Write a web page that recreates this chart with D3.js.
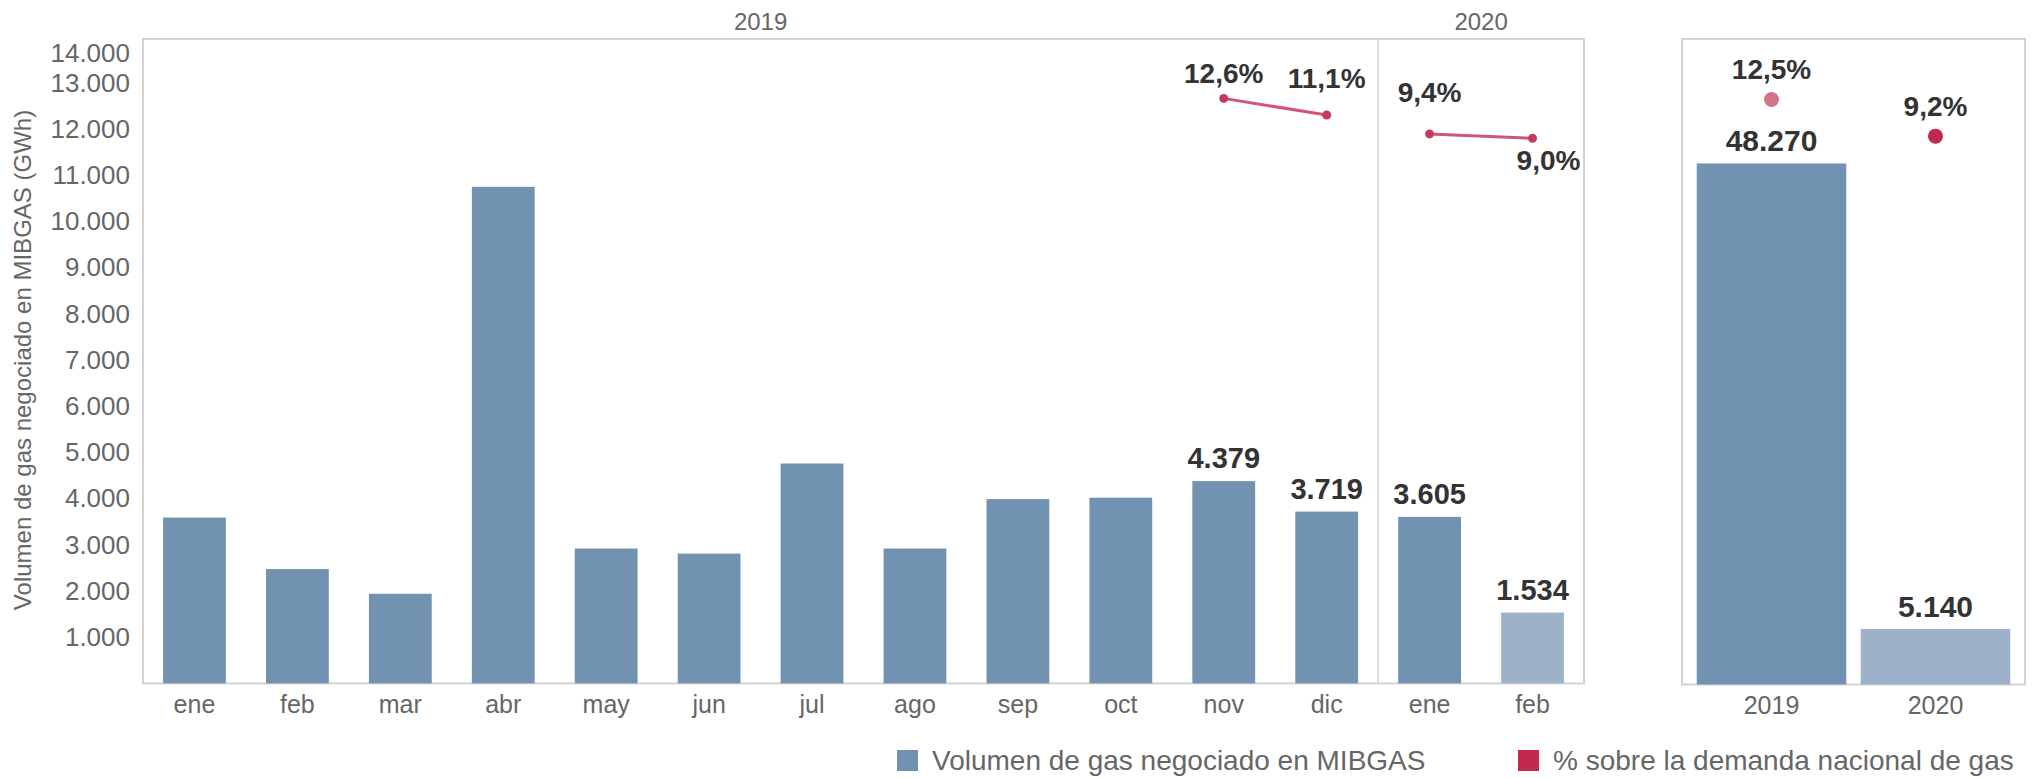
<!DOCTYPE html>
<html>
<head>
<meta charset="utf-8">
<script src="https://cdn.jsdelivr.net/npm/d3@7"></script>
<style>
  body { margin: 0; background: #fff; }
  text { font-family: "Liberation Sans", Arial, sans-serif; }
</style>
</head>
<body>
<svg id="main"></svg>
<script>
// monthly traded volume (GWh), 2019 jan-dec + 2020 jan-feb
var months = ["ene", "feb", "mar", "abr", "may", "jun", "jul", "ago", "sep", "oct", "nov", "dic", "ene", "feb"];
var monthYear = [2019, 2019, 2019, 2019, 2019, 2019, 2019, 2019, 2019, 2019, 2019, 2019, 2020, 2020];
var volume = [3590, 2475, 1940, 10750, 2920, 2810, 4760, 2920, 3990, 4020, 4379, 3719, 3605, 1534];
// % of national gas demand (only the last months fall inside the chart)
var pctMonth = [null, null, null, null, null, null, null, null, null, null, 12.6, 11.1, 9.4, 9.0];
// which bars get a value label, which month is incomplete
var labelled = [10, 11, 12, 13];
var incomplete = [13];

// yearly totals
var years = ["2019", "2020"];
var yearVolume = [48270, 5140];
var yearPct = [12.5, 9.2];

var yTicks = [1000, 2000, 3000, 4000, 5000, 6000, 7000, 8000, 9000, 10000, 11000, 12000, 13000, 14000];
var legendItems = ["Volumen de gas negociado en MIBGAS", "% sobre la demanda nacional de gas"];

var W = 2038, H = 778;
var dark = "#7192b1", light = "#9db2c8", red = "#c1294d", frame = "#d3d3d3";

var es = d3.formatLocale({decimal: ",", thousands: ".", grouping: [3], currency: ["", "€"]});
var fmtNum = es.format(",.0f");
var fmtPct = function (v) { return es.format(".1f")(v) + "%"; };

var svg = d3.select("#main").attr("width", W).attr("height", H);

// ---------- left panel (monthly) ----------
var pL = 143, pR = 1584, pT = 39, pB = 683.4;

var x = d3.scaleBand()
    .domain(d3.range(months.length))
    .range([pL, pR])
    .paddingInner(0.39)
    .paddingOuter(0.195);

var y = d3.scaleLinear()
    .domain([0, 13950])
    .range([pB, pT]);

// hidden dual axis for the percentages
var yPct = d3.scaleLinear()
    .domain([-40.1, 17.95])
    .range([pB, pT]);

// frame + year divider
svg.append("rect")
    .attr("x", pL).attr("y", pT)
    .attr("width", pR - pL).attr("height", pB - pT)
    .attr("fill", "none").attr("stroke", frame).attr("stroke-width", 2);

var divX = x(12) - x.step() * x.paddingInner() / 2;
svg.append("line")
    .attr("x1", divX).attr("x2", divX)
    .attr("y1", pT).attr("y2", pB)
    .attr("stroke", frame).attr("stroke-width", 1.5);

// y axis
var yAxis = svg.append("g")
    .attr("transform", "translate(" + pL + ",0)")
    .call(d3.axisLeft(y).tickValues(yTicks).tickFormat(fmtNum).tickSize(0).tickPadding(13));
yAxis.select(".domain").remove();
yAxis.selectAll("text")
    .style("font-size", "26px")
    .attr("fill", "#666");
// 14.000 sits just above the frame, so its label is pushed down inside
yAxis.selectAll(".tick")
    .filter(function (d) { return y(d) < pT + 15; })
    .attr("transform", "translate(0," + (pT + 15) + ")");

svg.append("text")
    .attr("transform", "rotate(-90)")
    .attr("x", -360)
    .attr("y", 23)
    .attr("dy", "0.35em")
    .style("text-anchor", "middle")
    .style("font-size", "24px")
    .attr("fill", "#666")
    .text("Volumen de gas negociado en MIBGAS (GWh)");

// x axis labels
var xAxis = svg.append("g")
    .attr("transform", "translate(0," + pB + ")")
    .call(d3.axisBottom(x).tickFormat(function (i) { return months[i]; }).tickSize(0).tickPadding(12));
xAxis.select(".domain").remove();
xAxis.selectAll("text")
    .style("font-size", "25px")
    .attr("fill", "#666");

// year headers
[2019, 2020].forEach(function (yr) {
    var idx = d3.range(months.length).filter(function (i) { return monthYear[i] === yr; });
    var x0 = x(idx[0]) - x.step() * x.paddingInner() / 2;
    var x1 = x(idx[idx.length - 1]) + x.bandwidth() + x.step() * x.paddingInner() / 2;
    svg.append("text")
        .attr("x", (x0 + x1) / 2)
        .attr("y", 30)
        .style("text-anchor", "middle")
        .style("font-size", "24px")
        .attr("fill", "#666")
        .text(yr);
});

// bars
svg.append("g")
    .selectAll("rect")
    .data(volume)
    .enter()
    .append("rect")
      .attr("x", function (d, i) { return x(i); })
      .attr("y", function (d) { return y(d); })
      .attr("width", x.bandwidth())
      .attr("height", function (d) { return pB - y(d); })
      .attr("fill", function (d, i) { return incomplete.indexOf(i) >= 0 ? light : dark; });

svg.append("g")
    .selectAll("text")
    .data(labelled)
    .enter()
    .append("text")
      .attr("x", function (i) { return x(i) + x.bandwidth() / 2; })
      .attr("y", function (i) { return y(volume[i]) - 13; })
      .style("text-anchor", "middle")
      .style("font-size", "29px")
      .style("font-weight", "bold")
      .attr("fill", "#333")
      .text(function (i) { return fmtNum(volume[i]); });

// percentage lines, one segment per year
var pctLine = d3.line()
    .defined(function (i) { return pctMonth[i] != null; })
    .x(function (i) { return x(i) + x.bandwidth() / 2; })
    .y(function (i) { return yPct(pctMonth[i]); });

[2019, 2020].forEach(function (yr) {
    var idx = d3.range(months.length).filter(function (i) { return monthYear[i] === yr; });
    svg.append("path")
        .datum(idx)
        .attr("d", pctLine)
        .attr("fill", "none")
        .attr("stroke", "#cf5676")
        .attr("stroke-width", 3);
});

var pctIdx = d3.range(months.length).filter(function (i) { return pctMonth[i] != null; });
svg.append("g")
    .selectAll("circle")
    .data(pctIdx)
    .enter()
    .append("circle")
      .attr("cx", function (i) { return x(i) + x.bandwidth() / 2; })
      .attr("cy", function (i) { return yPct(pctMonth[i]); })
      .attr("r", 4.5)
      .attr("fill", "#c53a5e");

// label placement (Tableau moves them around to avoid overlaps)
var pctDy = [-15, -27, -32, 32];
var pctDx = [0, 0, 0, 16];
svg.append("g")
    .selectAll("text")
    .data(pctIdx)
    .enter()
    .append("text")
      .attr("x", function (i, k) { return x(i) + x.bandwidth() / 2 + pctDx[k]; })
      .attr("y", function (i, k) { return yPct(pctMonth[i]) + pctDy[k]; })
      .style("text-anchor", "middle")
      .style("font-size", "28px")
      .style("font-weight", "bold")
      .attr("fill", "#333")
      .text(function (i) { return fmtPct(pctMonth[i]); });

// ---------- right panel (yearly totals) ----------
var qL = 1682, qR = 2025, qB = 684.5;

var x2 = d3.scaleBand()
    .domain(years)
    .range([qL, qR])
    .paddingInner(0.088)
    .paddingOuter(0.09);

var y2 = d3.scaleLinear()
    .domain([0, 59800])
    .range([qB, pT]);

svg.append("rect")
    .attr("x", qL).attr("y", pT)
    .attr("width", qR - qL).attr("height", qB - pT)
    .attr("fill", "none").attr("stroke", frame).attr("stroke-width", 2);

svg.append("g")
    .selectAll("rect")
    .data(yearVolume)
    .enter()
    .append("rect")
      .attr("x", function (d, i) { return x2(years[i]); })
      .attr("y", function (d) { return y2(d); })
      .attr("width", x2.bandwidth())
      .attr("height", function (d) { return qB - y2(d); })
      .attr("fill", function (d, i) { return i === 0 ? dark : light; });

svg.append("g")
    .selectAll("text")
    .data(yearVolume)
    .enter()
    .append("text")
      .attr("x", function (d, i) { return x2(years[i]) + x2.bandwidth() / 2; })
      .attr("y", function (d) { return y2(d) - 12; })
      .style("text-anchor", "middle")
      .style("font-size", "30px")
      .style("font-weight", "bold")
      .attr("fill", "#333")
      .text(function (d) { return fmtNum(d); });

svg.append("g")
    .selectAll("circle")
    .data(yearPct)
    .enter()
    .append("circle")
      .attr("cx", function (d, i) { return x2(years[i]) + x2.bandwidth() / 2; })
      .attr("cy", function (d) { return yPct(d); })
      .attr("r", 7.5)
      .attr("fill", function (d, i) { return i === 0 ? "#d5738b" : red; });

svg.append("g")
    .selectAll("text")
    .data(yearPct)
    .enter()
    .append("text")
      .attr("x", function (d, i) { return x2(years[i]) + x2.bandwidth() / 2; })
      .attr("y", function (d) { return yPct(d) - 20; })
      .style("text-anchor", "middle")
      .style("font-size", "28px")
      .style("font-weight", "bold")
      .attr("fill", "#333")
      .text(function (d) { return fmtPct(d); });

var xAxis2 = svg.append("g")
    .attr("transform", "translate(0," + qB + ")")
    .call(d3.axisBottom(x2).tickSize(0).tickPadding(12));
xAxis2.select(".domain").remove();
xAxis2.selectAll("text")
    .style("font-size", "25px")
    .attr("fill", "#666");

// ---------- legend ----------
var legendX = [897, 1518];
var legendColors = [dark, red];
var legend = svg.append("g");
legendItems.forEach(function (label, i) {
    legend.append("rect")
        .attr("x", legendX[i]).attr("y", 750)
        .attr("width", 21).attr("height", 21)
        .attr("fill", legendColors[i]);
    legend.append("text")
        .attr("x", legendX[i] + 35)
        .attr("y", 770)
        .style("font-size", "28px")
        .attr("fill", "#666")
        .text(label);
});
</script>
</body>
</html>
